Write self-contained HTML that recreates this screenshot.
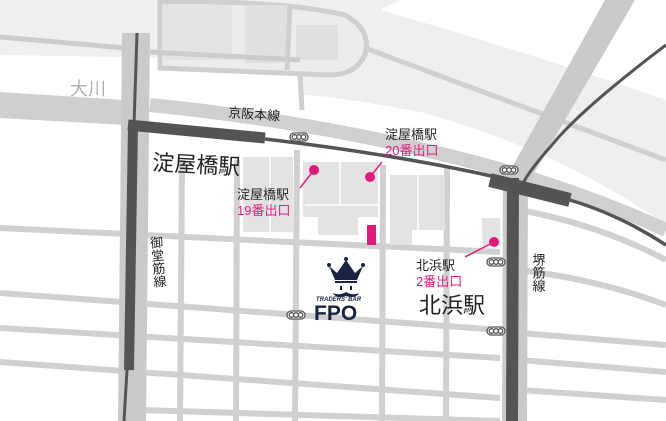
<!DOCTYPE html>
<html><head><meta charset="utf-8"><style>
html,body{margin:0;padding:0;background:#fff;}
svg{display:block;}
text{font-family:"Liberation Sans","Noto Sans CJK JP",sans-serif;}
</style></head><body>
<svg width="666" height="421" viewBox="0 0 666 421" xmlns="http://www.w3.org/2000/svg">
<rect width="666" height="421" fill="#fff"/>
<!-- top light area -->
<path d="M0 0 H400 L380 10 Q520 50 666 100 V225 Q560 150 420 112 Q330 95 300 95 L300 60 L0 55 Z" fill="#eeefef"/>
<!-- river white band -->
<path d="M0 58 L125 65 L125 100 L0 92 Z" fill="#fff"/>
<path d="M150 62 L300 68 L300 108 L150 103 Z" fill="#fff"/>
<!-- left grey band below river -->
<path d="M0 92 L125 100 L125 125 L0 118 Z" fill="#cfcfcf"/>
<!-- island -->
<path d="M160 2 Q280 0 345 15 Q372 30 365 55 Q355 75 330 75 L160 68 Z" fill="#ececec" stroke="#cfcfcf" stroke-width="5"/>
<rect x="245" y="5" width="45" height="58" fill="#e0e0e0"/>
<rect x="162" y="5" width="70" height="55" fill="#e3e3e3"/>
<rect x="296" y="25" width="42" height="35" fill="#e0e0e0"/>
<line x1="290" y1="5" x2="287" y2="70" stroke="#cfcfcf" stroke-width="5"/>
<line x1="365" y1="48" x2="666" y2="160" stroke="#d0d0d0" stroke-width="5"/>
<!-- road lines top -->
<path d="M0 37 L125 48" stroke="#cccccc" stroke-width="5" fill="none"/>
<path d="M150 52 L300 60" stroke="#cccccc" stroke-width="5" fill="none"/>
<line x1="300" y1="75" x2="302" y2="110" stroke="#cfcfcf" stroke-width="5"/>
<path d="M150 105 Q350 125 520 175 Q600 200 666 230" stroke="#d0d0d0" stroke-width="14" fill="none"/>
<!-- big diagonal road -->
<path d="M605 0 L635 0 L530 180 L505 180 Z" fill="#cacaca"/>
<!-- grid roads -->
<g stroke="#d0d0d0" stroke-width="6" fill="none">
<path d="M0 228 L500 252"/>
<path d="M0 293 L500 330"/>
<path d="M0 328 L500 358"/>
<path d="M0 362 L500 398"/>
<path d="M140 410 L500 421"/>
<path d="M520 270 Q600 280 666 305"/>
<path d="M520 333 L666 345"/>
<path d="M520 360 L666 372"/>
<path d="M520 390 L666 400"/>
<path d="M520 210 Q600 225 666 260"/>
<path d="M182 160 L180 421"/>
<path d="M237 160 L236 421"/>
<path d="M297 150 L295 421"/>
<path d="M383 165 L382 421"/>
<path d="M447 168 L446 421"/>
</g>
<!-- blocks buildings -->
<g fill="#e3e3e3">
<rect x="243" y="157" width="50" height="75"/>
<rect x="303" y="162" width="75" height="55"/>
<rect x="318" y="205" width="40" height="30"/>
<rect x="390" y="175" width="55" height="55"/>
<rect x="390" y="220" width="22" height="25"/>
<rect x="482" y="218" width="18" height="28"/>
</g>
<g stroke="#fff" stroke-width="1.5" fill="none">
<line x1="270" y1="157" x2="270" y2="232"/><line x1="340" y1="162" x2="340" y2="205"/>
<line x1="418" y1="175" x2="418" y2="245"/><line x1="305" y1="205" x2="378" y2="205"/>
</g>
<!-- verticals grey roads -->
<path d="M122 33 L150 33 L146 421 L118 421 Z" fill="#cacaca"/>
<path d="M503 180 L528 180 L527 421 L502 421 Z" fill="#cacaca"/>
<!-- rails -->
<line x1="137" y1="33" x2="134" y2="125" stroke="#555355" stroke-width="3"/>
<path d="M128 125 L265 138" stroke="#555355" stroke-width="11" fill="none"/>
<path d="M265 139 Q400 155 500 178" stroke="#555355" stroke-width="3.5" fill="none"/>
<path d="M490 180 L570 200" stroke="#555355" stroke-width="14" fill="none"/>
<path d="M570 200 Q620 215 666 245" stroke="#555355" stroke-width="3.5" fill="none"/>
<path d="M666 45 Q580 110 552 145 Q525 175 520 190" stroke="#555355" stroke-width="3" fill="none"/>
<path d="M133 125 L129 370" stroke="#555355" stroke-width="10" fill="none"/>
<line x1="127" y1="370" x2="124" y2="421" stroke="#555355" stroke-width="3"/>
<path d="M513 178 L512 421" stroke="#555355" stroke-width="12" fill="none"/>
<!-- station markers -->
<g fill="#fff" stroke="#555" stroke-width="1.3">
<g transform="translate(290,133)"><rect width="18" height="8" rx="4"/><circle cx="4.5" cy="4" r="2.3"/><circle cx="9" cy="4" r="2.3"/><circle cx="13.5" cy="4" r="2.3"/></g>
<g transform="translate(500,166)"><rect width="18" height="8" rx="4"/><circle cx="4.5" cy="4" r="2.3"/><circle cx="9" cy="4" r="2.3"/><circle cx="13.5" cy="4" r="2.3"/></g>
<g transform="translate(487,258)"><rect width="18" height="8" rx="4"/><circle cx="4.5" cy="4" r="2.3"/><circle cx="9" cy="4" r="2.3"/><circle cx="13.5" cy="4" r="2.3"/></g>
<g transform="translate(287,311)"><rect width="18" height="8" rx="4"/><circle cx="4.5" cy="4" r="2.3"/><circle cx="9" cy="4" r="2.3"/><circle cx="13.5" cy="4" r="2.3"/></g>
<g transform="translate(487,327)"><rect width="18" height="8" rx="4"/><circle cx="4.5" cy="4" r="2.3"/><circle cx="9" cy="4" r="2.3"/><circle cx="13.5" cy="4" r="2.3"/></g>
</g>
<!-- pink -->
<g fill="#e5197d" stroke="#e5197d">
<circle cx="314" cy="170" r="5" stroke="none"/><line x1="314" y1="170" x2="300" y2="188" stroke-width="1.5"/>
<circle cx="370" cy="177" r="5" stroke="none"/><line x1="370" y1="177" x2="382" y2="162" stroke-width="1.5"/>
<circle cx="494" cy="242" r="5" stroke="none"/><line x1="494" y1="242" x2="465" y2="257" stroke-width="1.5"/>
<rect x="367" y="225" width="9" height="20" stroke="none"/>
</g>
<!-- labels -->
<text x="70" y="95" font-size="18" fill="#b0b0b0">大川</text>
<text x="228" y="117" font-size="13" fill="#222" transform="rotate(4 228 117)">京阪本線</text>
<text x="152" y="170" font-size="22" fill="#222" transform="rotate(3 152 170)">淀屋橋駅</text>
<text x="237" y="199" font-size="13" fill="#222">淀屋橋駅</text>
<text x="237" y="215" font-size="13" fill="#e5197d">19番出口</text>
<text x="385" y="139" font-size="13" fill="#222">淀屋橋駅</text>
<text x="385" y="155" font-size="13" fill="#e5197d">20番出口</text>
<text x="416" y="270" font-size="13" fill="#222">北浜駅</text>
<text x="416" y="286" font-size="13" fill="#e5197d">2番出口</text>
<text x="419" y="313" font-size="22" fill="#222">北浜駅</text>
<text font-size="13" fill="#222" writing-mode="tb" x="155" y="236" transform="rotate(-5 155 236)">御堂筋線</text>
<text font-size="13" fill="#222" writing-mode="tb" x="538" y="253">堺筋線</text>
<!-- FPO logo -->
<g fill="#1a2344">
<path d="M329 266 L335 280 L357 280 L363 266 L355 273 L346 260 L337 273 Z"/>
<circle cx="329" cy="265" r="2"/><circle cx="346" cy="259" r="2"/><circle cx="363" cy="265" r="2"/>
<rect x="335" y="281" width="22" height="2"/>
<rect x="340" y="286" width="2" height="4"/><rect x="350" y="286" width="2" height="4"/>
<path d="M333 293 Q339 296 346 292 Q353 296 359 293 Q356 299 346 296 Q336 299 333 293 Z"/>
<text x="316" y="301" font-size="6" font-weight="bold" font-style="italic">TRADERS' BAR</text>
<text x="314" y="320" font-size="21" font-weight="bold" font-family="Liberation Sans,sans-serif">FPO</text>
</g>
</svg>
</body></html>
